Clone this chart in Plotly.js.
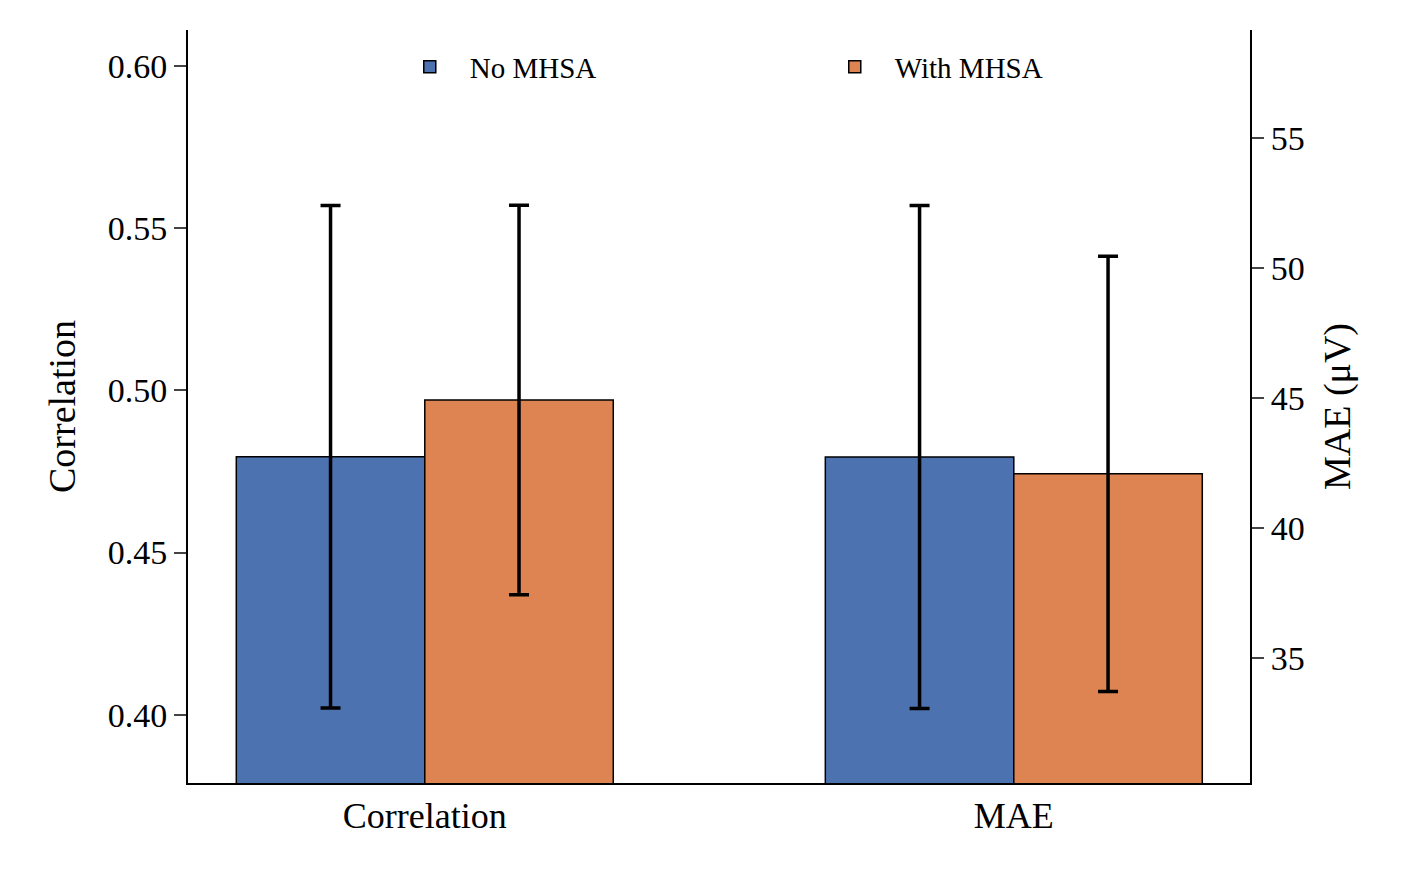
<!DOCTYPE html>
<html>
<head>
<script src="https://cdn.plot.ly/plotly-3.0.1.min.js"></script>
<style>body{margin:0;background:#fff}</style>
</head>
<body>
<div id="chart" style="width:1404px;height:870px"></div>
<script>
// values
var categories = ['Correlation', 'MAE'];
var series = ['No MHSA', 'With MHSA'];
var colors = ['#4c72b0', '#dd8452'];
var corrMean = [0.4795, 0.497];
var corrErr = [0.0774, 0.060];
var maeMean = [42.73, 42.08];
var maeErr = [9.67, 8.37];

var barW = 0.32;
var fam = 'Liberation Serif, Times New Roman, serif';
var traces = [];
series.forEach(function (name, i) {
	var off = (i - 0.5) * barW;
	var common = {
		type: 'bar',
		name: name,
		width: barW,
		marker: {color: colors[i], line: {color: '#000', width: 1.5}},
		legendgroup: name
	};
	traces.push(Object.assign({}, common, {
		x: [0 + off],
		y: [corrMean[i]],
		error_y: {type: 'data', array: [corrErr[i]], color: '#000', thickness: 3.5, width: 10},
		yaxis: 'y',
		showlegend: true
	}));
	traces.push(Object.assign({}, common, {
		x: [1 + off],
		y: [maeMean[i]],
		error_y: {type: 'data', array: [maeErr[i]], color: '#000', thickness: 3.5, width: 10},
		yaxis: 'y2',
		showlegend: false
	}));
});

var tickFont = {family: fam, size: 34, color: '#000'};
var titleFont = {family: fam, size: 38, color: '#000'};

var layout = {
	width: 1404, height: 870,
	margin: {l: 188, r: 154, t: 30, b: 87},
	font: {family: fam, size: 34, color: '#000'},
	plot_bgcolor: '#fff', paper_bgcolor: '#fff',
	barmode: 'overlay',
	showlegend: true,
	legend: {orientation: 'h', x: 0.19, xanchor: 'left', y: 0.985, yanchor: 'top',
		font: {family: fam, size: 29, color: '#000'}, itemwidth: 70, entrywidth: 340},
	xaxis: {
		range: [-0.402, 1.401],
		tickvals: [0, 1], ticktext: categories, tickfont: {family: fam, size: 36, color: '#000'},
		showline: true, linecolor: '#000', linewidth: 2,
		ticks: '', showgrid: false, zeroline: false
	},
	yaxis: {
		title: {text: 'Correlation', font: titleFont, standoff: 20},
		range: [0.379, 0.611], tickvals: [0.40, 0.45, 0.50, 0.55, 0.60],
		tickformat: '.2f', tickfont: tickFont,
		showline: true, linecolor: '#000', linewidth: 2,
		ticks: 'outside', ticklen: 12, tickwidth: 2,
		showgrid: false, zeroline: false
	},
	yaxis2: {
		title: {text: 'MAE (μV)', font: titleFont, standoff: 20},
		overlaying: 'y', side: 'right',
		range: [30.19, 59.15], tickvals: [35, 40, 45, 50, 55], tickfont: tickFont,
		showline: true, linecolor: '#000', linewidth: 2,
		ticks: 'outside', ticklen: 12, tickwidth: 2,
		showgrid: false, zeroline: false
	}
};

Plotly.newPlot('chart', traces, layout, {displayModeBar: false});
</script>
</body>
</html>
